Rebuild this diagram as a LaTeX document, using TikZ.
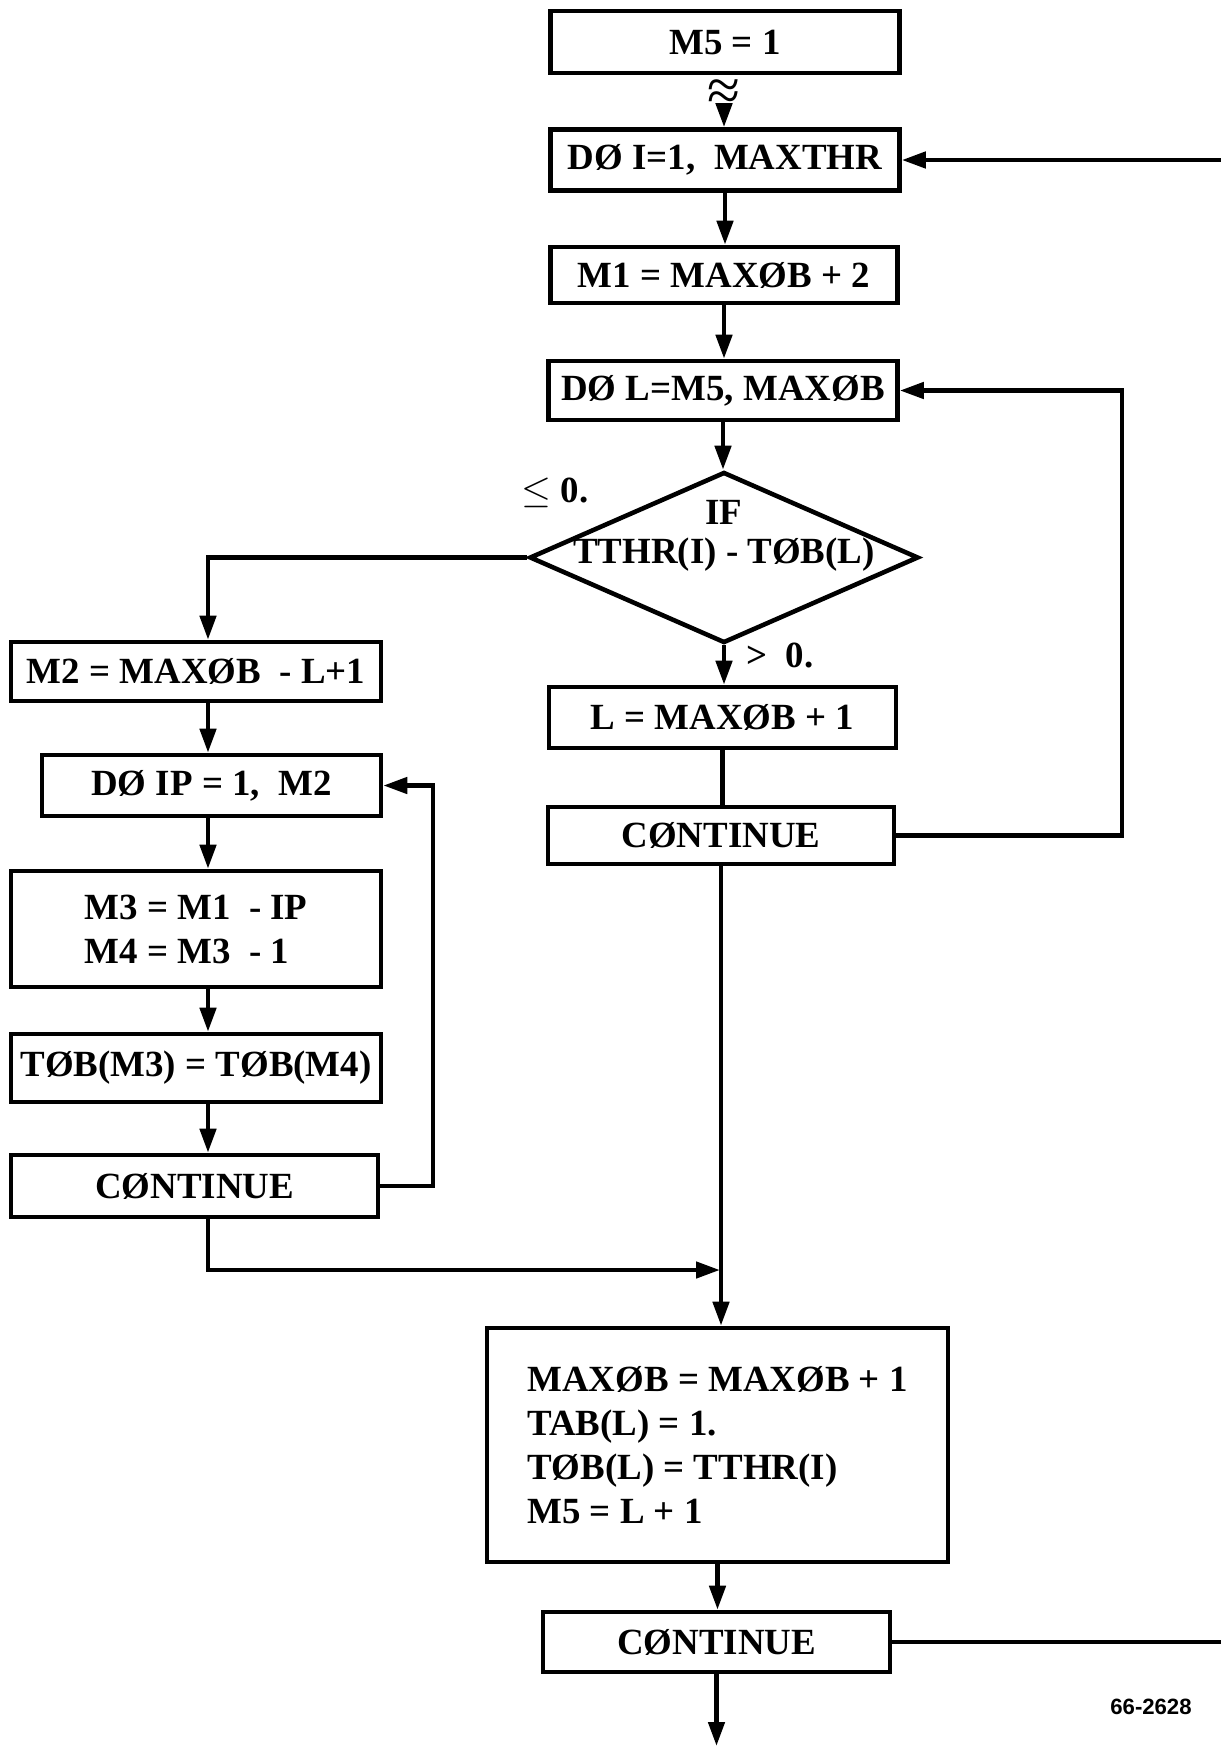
\documentclass[tikz,border=0pt]{standalone}
\usepackage{fontspec}
\setmainfont{Liberation Serif}
\newfontfamily\tagfont{Liberation Sans}
\usetikzlibrary{arrows.meta, shapes.geometric}

\begin{document}
\begin{tikzpicture}[
    every node/.style={font=\fontsize{10.5}{12.5}\selectfont\bfseries},
    flow/.style={line width=1.3pt, -{Triangle[length=2.4mm, width=1.6mm]}},
    wire/.style={line width=1.3pt},
    stmt/.style={draw, line width=1.3pt, inner sep=0pt, align=center},
    decision/.style={draw, diamond, line width=1.3pt, inner sep=0pt, minimum width=3.89cm, minimum height=1.71cm}
]

    % Moldura
    \useasboundingbox (0,0) rectangle (12.21,-17.46);
    \coordinate (lx) at (2.08,0);
    \coordinate (lpin) at (4.33,0);
    \coordinate (lpmid) at (11.22,0);
    \coordinate (rim) at (12.21,0);

    % Coluna central
    \node[stmt, minimum width=3.49cm, minimum height=0.62cm] (m5) at (7.25,-0.42) {M5 = 1};
    \node[inner sep=0pt, font=\fontsize{17}{17}\selectfont] (brk) at (7.24,-0.95) {≈};
    \node[stmt, minimum width=3.49cm, minimum height=0.61cm] (doi) at (7.25,-1.60) {DØ I=1,\ \ MAXTHR};
    \node[stmt, minimum width=3.47cm, minimum height=0.56cm] (m1) at (7.24,-2.75) {M1 = MAXØB + 2};
    \node[stmt, minimum width=3.49cm, minimum height=0.59cm] (dol) at (7.23,-3.905) {DØ L=M5,\ MAXØB};

    % Teste
    \node[decision] (ifd) at (7.24,-5.575) {};
    \node (iflbl) at (7.24,-5.12) {IF};
    \node (ifexpr) at (7.24,-5.55) {TTHR(I)\ -\ TØB(L)};
    \node (le) at (5.55,-4.93) {$\leq$ 0.};
    \node (gt) at (7.80,-6.55) {>\ \ 0.};

    \node[stmt, minimum width=3.47cm, minimum height=0.61cm] (lset) at (7.225,-7.175) {L = MAXØB + 1};
    \node[stmt, minimum width=3.46cm, minimum height=0.57cm] (cont1) at (7.21,-8.355) {CØNTINUE};

    % Coluna esquerda
    \node[stmt, minimum width=3.70cm, minimum height=0.59cm] (m2) at (1.96,-6.715) {M2 = MAXØB\ \ - L+1};
    \node[stmt, minimum width=3.39cm, minimum height=0.61cm] (doip) at (2.115,-7.855) {DØ IP = 1,\ \ M2};
    \node[stmt, align=left, minimum width=3.70cm, minimum height=1.16cm] (m34) at (1.96,-9.29) {M3 = M1\ \ - IP\\M4 = M3\ \ - 1};
    \node[stmt, minimum width=3.70cm, minimum height=0.68cm] (tob) at (1.96,-10.68) {TØB(M3) = TØB(M4)};
    \node[stmt, minimum width=3.67cm, minimum height=0.62cm] (cont2) at (1.945,-11.86) {CØNTINUE};
    \coordinate (jn) at (7.20,-12.70);

    % Bloco final
    \node[stmt, align=left, minimum width=4.61cm, minimum height=2.34cm] (big) at (7.175,-14.45) {MAXØB = MAXØB + 1\\TAB(L) = 1.\\TØB(L) = TTHR(I)\\M5 = L + 1};
    \node[stmt, minimum width=3.47cm, minimum height=0.60cm] (cont3) at (7.165,-16.42) {CØNTINUE};
    \coordinate (out) at (7.165,-17.46);

    \node[font=\tagfont\bfseries\fontsize{6.3}{7}\selectfont] (tag) at (11.51,-17.065) {66-2628};

    % Ligacoes
    \draw[flow] (brk.south) -- (brk.south |- doi.north);
    \draw[flow] (doi.south) -- (doi.south |- m1.north);
    \draw[flow] (m1.south) -- (m1.south |- dol.north);
    \draw[flow] (dol.south) -- (dol.south |- ifd.north);
    \draw[flow] (ifd.south) -- (ifd.south |- lset.north);
    \draw[wire] (lset.south) -- (lset.south |- cont1.north);
    \draw[flow] (cont1.south) -- (cont1.south |- big.north);
    \draw[flow] (big.south) -- (big.south |- cont3.north);
    \draw[flow] (cont3.south) -- (out);

    \draw[flow] (ifd.west) -| (m2.north -| lx);
    \draw[flow] (m2.south -| lx) -- (doip.north -| lx);
    \draw[flow] (doip.south -| lx) -- (m34.north -| lx);
    \draw[flow] (m34.south -| lx) -- (tob.north -| lx);
    \draw[flow] (tob.south -| lx) -- (cont2.north -| lx);
    \draw[flow] (cont2.south -| lx) |- (jn);

    % Lacos
    \draw[flow] (cont2.east) -- (cont2.east -| lpin) |- (doip.east);
    \draw[flow] (cont1.east) -- (cont1.east -| lpmid) |- (dol.east);
    \draw[wire] (cont3.east) -- (cont3.east -| rim);
    \draw[flow] (doi.east -| rim) -- (doi.east);

\end{tikzpicture}
\end{document}
